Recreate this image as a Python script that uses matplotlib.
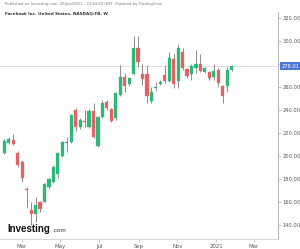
import numpy as np
import pandas as pd
import matplotlib
matplotlib.use("Agg")
import matplotlib.pyplot as plt
import matplotlib.dates as mdates

# weekly candles, Facebook (NASDAQ:FB), week starting Mon Feb 3 2020
week_start = "2020-02-03"
opens = [202.7, 211.4, 213.8, 202.7, 194.4, 171.0, 152.8, 149.3, 159.5, 160.0,
         173.1, 177.5, 184.2, 200.1, 211.5, 212.3, 239.9, 224.8, 230.0, 225.4,
         239.0, 208.5, 233.5, 247.1, 240.5, 232.7, 253.0, 268.4, 262.3, 271.0,
         294.2, 271.3, 271.0, 247.7, 259.2, 262.3, 270.4, 265.4, 284.1, 265.1,
         290.2, 275.3, 271.0, 276.2, 279.7, 273.3, 272.7, 268.4, 274.7, 260.8,
         260.8, 274.7]
highs = [214.5, 216.5, 219.0, 204.0, 196.0, 173.1, 160.0, 163.9, 161.0, 176.5,
         181.0, 192.0, 203.0, 213.0, 216.6, 236.5, 241.4, 232.5, 239.9, 240.5,
         245.7, 234.5, 248.6, 248.5, 241.5, 255.5, 279.1, 271.9, 268.5, 304.6,
         304.6, 279.7, 279.1, 260.2, 264.6, 266.0, 279.1, 290.4, 289.0, 297.4,
         293.6, 276.5, 279.7, 292.2, 288.4, 277.5, 274.0, 280.3, 276.2, 262.0,
         277.0, 279.5]
lows = [201.5, 210.0, 209.5, 190.5, 177.5, 154.3, 139.7, 142.6, 151.0, 159.5,
        171.5, 176.0, 180.4, 199.0, 203.0, 211.5, 221.3, 223.0, 225.4, 224.5,
        215.2, 207.4, 232.5, 239.5, 229.5, 231.5, 252.4, 255.8, 261.0, 270.4,
        277.6, 261.4, 246.3, 245.7, 256.5, 261.5, 263.2, 264.6, 259.3, 259.3,
        274.7, 268.0, 266.0, 271.9, 273.3, 272.0, 266.0, 265.7, 260.1, 245.7,
        256.0, 273.5]
closes = [213.2, 214.4, 210.0, 192.0, 180.4, 170.2, 149.3, 157.2, 153.7, 175.4,
          179.5, 190.5, 202.2, 212.3, 212.0, 235.5, 225.4, 231.2, 229.2, 239.0,
          216.1, 233.5, 245.7, 241.4, 230.6, 254.5, 268.4, 261.1, 267.5, 294.2,
          282.0, 266.6, 252.4, 255.8, 259.7, 264.6, 265.4, 284.9, 262.3, 294.2,
          276.7, 269.8, 278.5, 279.7, 273.9, 276.7, 267.5, 273.9, 263.2, 252.4,
          274.7, 278.5]
last_price = 278.01

y_ticks = [140, 160, 180, 200, 220, 240, 260, 280, 300, 320]
x_tick_dates = ["2020-03-01", "2020-05-01", "2020-07-01", "2020-09-01",
                "2020-11-01", "2021-01-01", "2021-03-01"]
x_tick_labels = ["Mar", "May", "Jul", "Sep", "Nov", "2021", "Mar"]

header1 = "Published on Investing.com, 25/Jan/2021 - 22:44:49 GMT, Powered by TradingView."
header2 = "Facebook Inc. United States, NASDAQ:FB, W"

GREEN = "#2db87a"
RED = "#e36262"

df = pd.DataFrame({"open": opens, "high": highs, "low": lows, "close": closes})
df["date"] = pd.date_range(week_start, periods=len(df), freq="7D")
x = mdates.date2num(df["date"])
up = df["close"] >= df["open"]
colors = np.where(up, GREEN, RED)

fig = plt.figure(figsize=(3.0, 2.49), dpi=100)
ax = fig.add_axes([0, 10 / 249, 278 / 300, 227 / 249])

# wicks
ax.vlines(x, df["low"], df["high"], color="#5f5f5f", linewidth=0.5, zorder=2)
# bodies
body_bottom = np.minimum(df["open"], df["close"])
body_h = np.maximum(np.abs(df["close"] - df["open"]), 0.6)
ax.bar(x, body_h, bottom=body_bottom, width=5.0, color=colors,
       edgecolor=colors, linewidth=0.2, zorder=3)

# last price line + label (it hides the 280 tick label, as in the original)
ax.axhline(last_price, color="#c9d3e0", linewidth=0.5, zorder=1)
ax.text(1.012, last_price, "%.2f" % last_price, transform=ax.get_yaxis_transform(),
        ha="left", va="center", fontsize=3.7, color="white", zorder=10,
        bbox=dict(boxstyle="square,pad=0.3", fc="#4a78d6", ec="none"),
        clip_on=False)

ax.set_xlim(mdates.date2num(pd.Timestamp("2020-01-27")),
            mdates.date2num(pd.Timestamp("2021-04-08")))
ax.set_ylim(127.5, 325.3)

ax.yaxis.tick_right()
ax.set_yticks(y_ticks)
ax.set_yticklabels(["" if v == 280 else "%.2f" % v for v in y_ticks])
ax.set_xticks(mdates.date2num(pd.to_datetime(x_tick_dates)))
ax.set_xticklabels(x_tick_labels)
ax.tick_params(axis="y", length=2, width=0.4, pad=1, labelsize=3.7,
               colors="#9a9a9a", labelcolor="#555555")
ax.tick_params(axis="x", length=2, width=0.4, pad=1.5, labelsize=3.9,
               colors="#9a9a9a", labelcolor="#555555")

for s in ["left", "top"]:
    ax.spines[s].set_visible(False)
ax.spines["right"].set_color("#a8a8a8")
ax.spines["right"].set_linewidth(0.6)
ax.spines["bottom"].set_color("#d0d0d0")
ax.spines["bottom"].set_linewidth(0.6)

# header
fig.text(5 / 300, 1 - 4.5 / 249, header1, fontsize=2.7, color="#777777",
         ha="left", va="center")
fig.text(5 / 300, 1 - 13.5 / 249, header2, fontsize=3, color="#333333",
         fontweight="bold", ha="left", va="center")

# watermark logo
ax.text(0.028, 0.033, "Investing", transform=ax.transAxes, fontsize=7,
        fontweight="bold", family="Liberation Sans", color="#111111",
        ha="left", va="baseline", zorder=5)
ax.text(0.187, 0.033, ".com", transform=ax.transAxes, fontsize=4.6,
        family="Liberation Sans", color="#333333", ha="left", va="baseline",
        zorder=5)

fig.savefig("out.png", dpi=100)
